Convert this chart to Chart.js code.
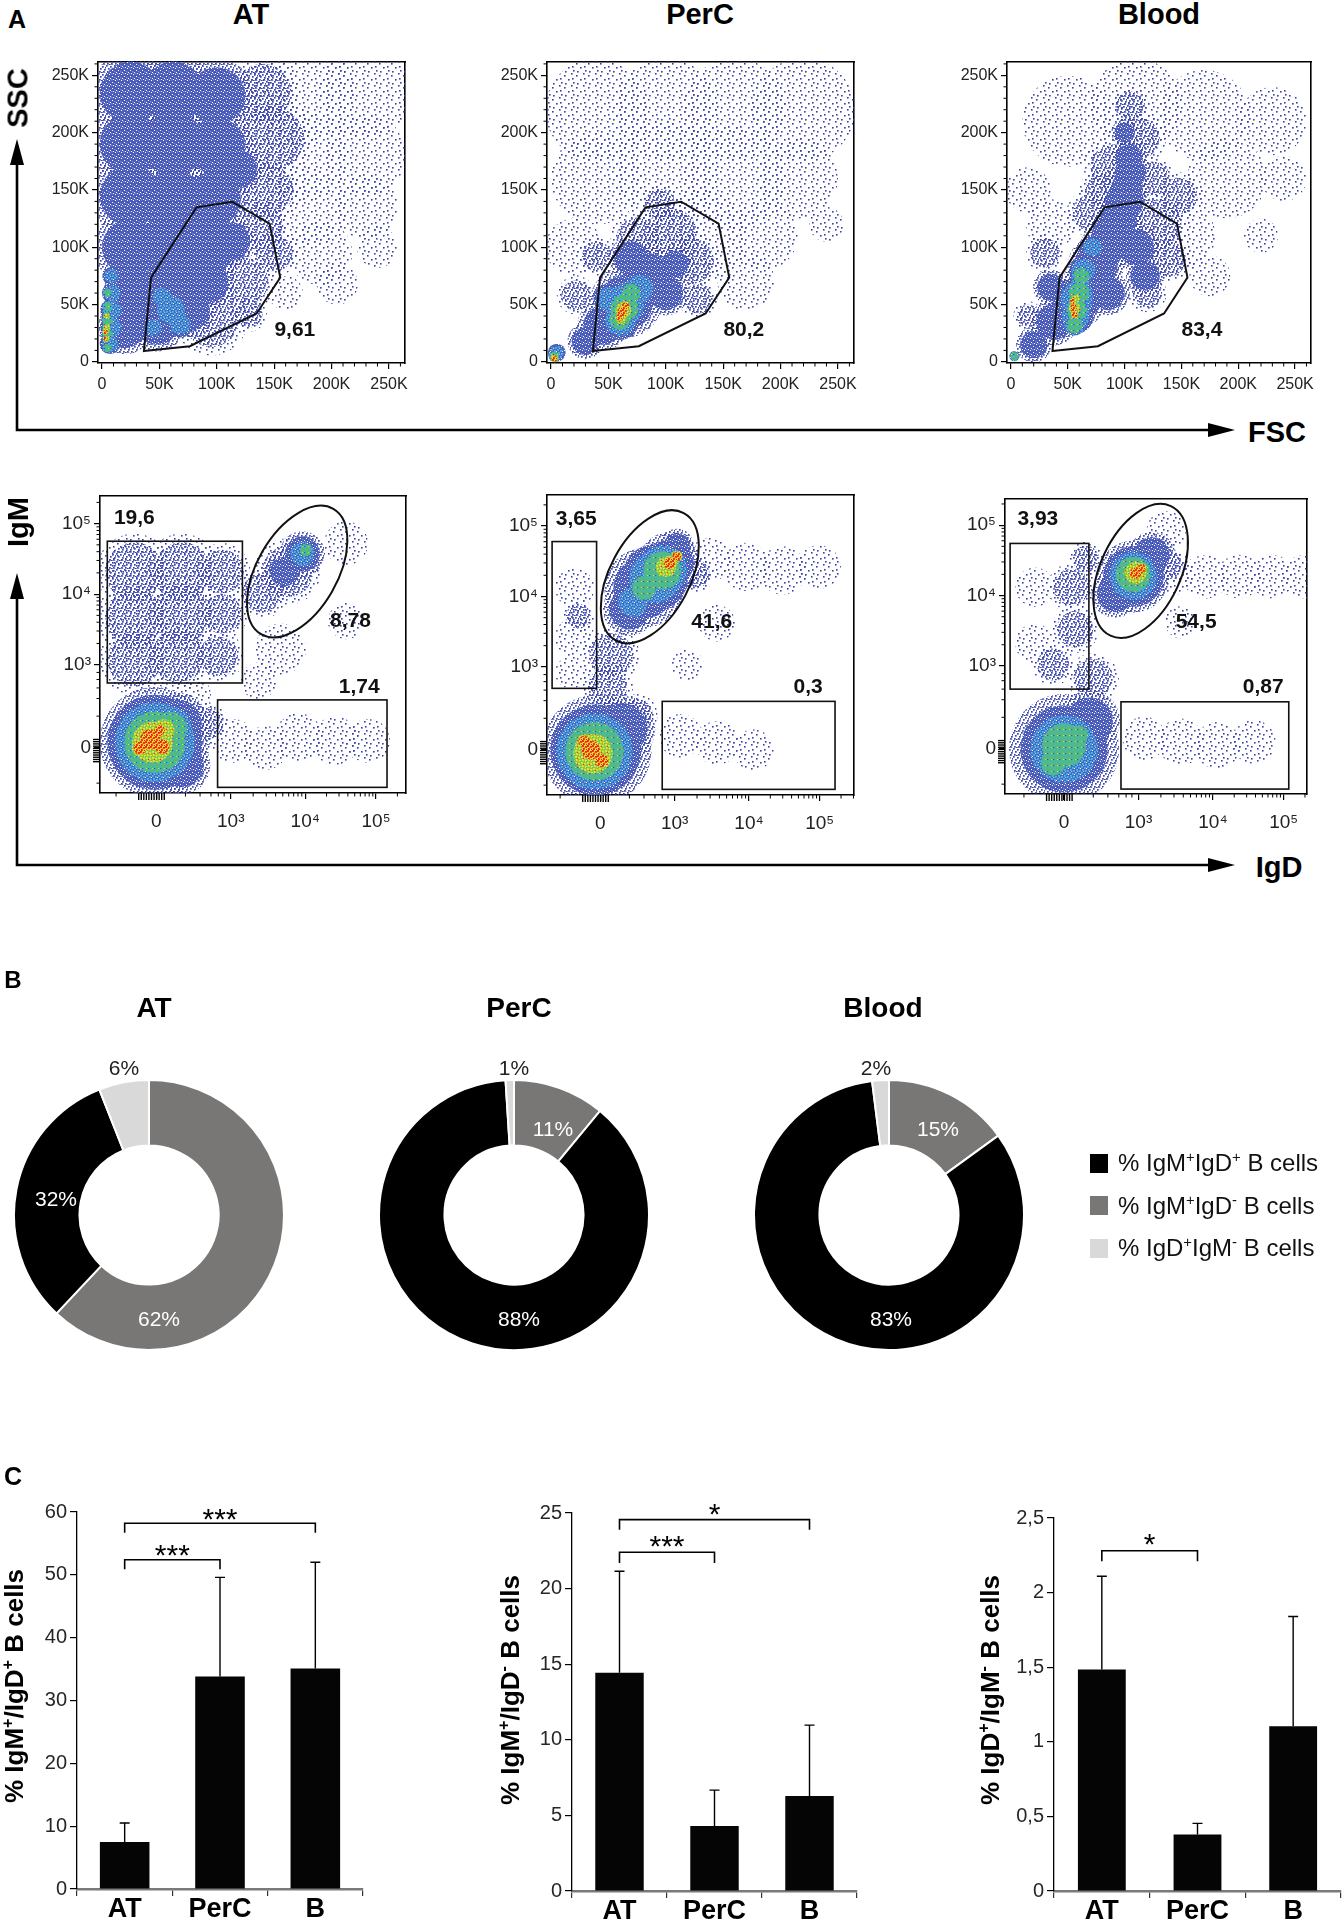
<!DOCTYPE html>
<html><head><meta charset="utf-8">
<script src="https://cdn.jsdelivr.net/npm/chart.js@4.4.1/dist/chart.umd.min.js"></script>
<style>
body{margin:0;background:#fff;}
#fig{position:relative;width:1344px;height:1922px;overflow:hidden;background:#fff;font-family:'Liberation Sans',Arial,sans-serif;color:#000;}
#fig canvas{position:absolute;}
.lbl{position:absolute;transform:translate(-50%,-50%);white-space:nowrap;line-height:1;}
.lbl sup{font-size:62%;vertical-align:0.62em;line-height:0;}
.sw{position:absolute;width:18px;height:19px;}
</style></head>
<body><div id="fig"></div>
<script>
// ---------------- DATA ----------------
// Panel A, top row (FSC / SSC, values in thousands)
const scatterTicks = [0, 50, 100, 150, 200, 250];
const scatterTickLabels = ['0', '50K', '100K', '150K', '200K', '250K'];
const scatterGate = [[36.5,9.4],[76.5,13.7],[134.7,42.2],[155.3,73.5],[146,120.6],[113.4,139.7],[82.3,134.8],[42.7,73.5]];
const scatterGateValues = ['9,61', '80,2', '83,4'];
const scatterGateLabelPos = [168, 28];
// density blobs [x, y, radius] per density level
const atScatter = {
  sparse: [[175,235,45],[230,235,40],[175,180,40],[230,180,35],[180,135,35],[230,135,28],[190,95,28],[240,100,18],[205,68,18],[160,60,15]],
  mid: [[140,235,25],[148,195,28],[145,150,22],[138,118,20],[150,95,16],[125,70,20],[95,38,25],[128,42,12]],
  dense: [[25,235,27],[62,235,27],[100,232,25],[25,190,27],[62,190,28],[100,188,25],[25,145,27],[62,140,28],[97,142,24],[25,100,25],[58,100,27],[92,100,24],[30,60,22],[58,65,22],[90,70,20],[20,30,18],[48,35,20],[76,45,18],[112,105,17],[118,168,17]],
  cyan: [[8,75,6],[9,60,7],[9,45,8],[9,30,8],[7,16,7],[60,45,12],[52,57,8],[68,33,9],[45,30,7]],
  green: [[5,60,3.5],[5,48,4],[5,36,4.5],[5,24,4.5],[5,12,3.5]],
  yellow: [[4,40,2.5],[4,30,2.8],[4,20,2.2]],
  red: [[3,26,2],[3,20,1.8]]
};
const percScatter = {
  sparse: [[40,220,45],[100,220,45],[160,220,45],[220,220,45],[40,160,40],[100,165,45],[160,160,45],[215,160,35],[130,110,40],[185,110,30],[20,100,25],[170,70,25],[240,120,15]],
  mid: [[105,112,22],[122,88,20],[75,108,18],[22,58,13],[40,92,13],[128,55,13],[95,138,13]],
  dense: [[65,52,24],[85,75,20],[45,32,17],[100,60,15],[70,90,15],[30,18,12],[108,85,12]],
  cyan: [[64,50,17],[60,36,13],[77,64,12],[50,55,10],[5,8,6]],
  green: [[64,47,12],[60,37,9],[70,60,8],[3,5,4]],
  yellow: [[63,45,7],[61,38,5]],
  red: [[62,44,4],[60,39,3],[65,49,3],[3,3,2.5]]
};
const bloodScatter = {
  sparse: [[50,210,40],[110,225,40],[170,215,40],[230,210,30],[190,160,35],[150,110,30],[15,150,20],[240,160,20],[35,120,22],[175,75,18],[220,110,15]],
  mid: [[128,120,22],[138,90,16],[90,170,20],[113,195,18],[105,223,13],[30,95,13],[15,40,10],[148,145,16],[70,130,16],[120,60,13],[80,150,15],[125,160,15]],
  dense: [[20,15,12],[38,35,16],[50,45,16],[60,55,19],[68,70,17],[75,85,19],[82,98,17],[90,110,19],[95,125,16],[100,140,17],[102,152,14],[105,165,14],[104,178,12],[100,200,9],[35,65,12],[110,100,16],[118,75,13],[85,60,15]],
  cyan: [[58,55,14],[57,40,12],[64,80,10],[72,100,8]],
  green: [[58,45,9],[60,60,9],[62,75,7],[56,32,7],[3,5,3.5]],
  yellow: [[56,47,5],[57,55,3.5]],
  red: [[55,47,3],[56,41,2.5],[54,53,2]]
};

// Panel A, bottom row (IgD / IgM, transformed display units)
const igdTicks = [0, 1.02, 2.04, 3.01];
const igmTicks = [0, 1.18, 2.18, 3.18];
const logTickLabels = ['0', '10³', '10⁴', '10⁵'];
const atGates = { rects: [[-0.67,0.92,1.18,2.93],[0.84,-0.56,3.16,0.68]], ellipse: [1.93,2.5,0.99,0.55,30] };
const percGates = { rects: [[-0.66,0.875,-0.05,2.96],[0.85,-0.56,3.22,0.69]], ellipse: [0.68,2.46,0.99,0.55,28] };
const bloodGates = { rects: [[-0.74,0.85,0.34,2.92],[0.78,-0.57,3.08,0.67]], ellipse: [1.05,2.53,0.98,0.55,25] };
const atGateLabels = [['19,6',-0.3,3.25],['8,78',2.66,1.79],['1,74',2.78,0.86]];
const percGateLabels = [['3,65',-0.33,3.28],['41,6',1.53,1.82],['0,3',2.85,0.89]];
const bloodGateLabels = [['3,93',-0.36,3.26],['54,5',1.81,1.8],['0,87',2.73,0.88]];
const atIg = {
  sparse: [[1.05,0.1,0.3],[1.5,0.0,0.3],[1.95,0.15,0.33],[2.45,0.1,0.33],[2.9,0.1,0.3],[1.7,1.4,0.35],[2.6,2.9,0.3],[1.4,0.95,0.25],[2.6,1.8,0.25],[0.5,0.75,0.25]],
  mid: [[-0.3,2.5,0.4],[0.35,2.5,0.4],[0.9,2.5,0.3],[-0.3,1.85,0.4],[0.35,1.9,0.4],[0.9,1.9,0.27],[-0.3,1.25,0.37],[0.3,1.3,0.37],[0.85,1.3,0.27],[1.8,2.5,0.35],[1.45,2.2,0.27],[0.7,0.35,0.22]],
  dense: [[-0.02,0.08,0.58],[0.3,0.35,0.32],[0.35,-0.25,0.3],[2.0,2.75,0.24],[1.75,2.5,0.2]],
  cyan: [[-0.02,0.08,0.5],[2.0,2.75,0.16]],
  green: [[-0.02,0.08,0.42],[0.2,0.28,0.22],[2.05,2.8,0.08]],
  yellow: [[-0.05,0.08,0.28],[0.1,0.25,0.15]],
  red: [[-0.08,0.12,0.14],[0.08,0.02,0.1],[-0.22,0.0,0.09],[0.05,0.25,0.07]]
};
const percIg = {
  sparse: [[-0.35,2.3,0.27],[-0.35,1.6,0.27],[-0.4,1.1,0.22],[1.5,2.7,0.3],[2.0,2.6,0.33],[2.5,2.55,0.33],[3.0,2.6,0.3],[1.6,1.8,0.25],[1.1,0.2,0.3],[1.6,0.1,0.3],[2.1,0.0,0.28],[1.2,1.2,0.22]],
  mid: [[0.15,1.35,0.3],[0.1,0.9,0.27],[-0.3,1.9,0.17],[1.3,2.5,0.2],[0.5,0.5,0.22]],
  dense: [[-0.05,0.0,0.58],[0.3,0.3,0.35],[0.6,2.3,0.42],[0.95,2.65,0.33],[0.4,2.0,0.28],[1.05,2.9,0.18]],
  cyan: [[-0.06,0.0,0.48],[0.75,2.45,0.35],[0.45,2.1,0.2]],
  green: [[-0.08,-0.02,0.4],[0.85,2.55,0.26],[0.6,2.3,0.16]],
  yellow: [[-0.1,-0.05,0.27],[0.9,2.6,0.14]],
  red: [[-0.13,0.0,0.13],[0.02,-0.15,0.09],[-0.22,0.12,0.08],[0.95,2.65,0.08],[1.05,2.75,0.06]]
};
const bloodIg = {
  sparse: [[-0.4,2.3,0.27],[-0.4,1.5,0.27],[1.5,2.5,0.3],[1.95,2.45,0.3],[2.4,2.45,0.3],[2.85,2.45,0.3],[3.3,2.45,0.3],[1.1,0.15,0.3],[1.6,0.1,0.32],[2.1,0.05,0.32],[2.6,0.1,0.3],[1.6,1.8,0.22],[1.4,3.1,0.27]],
  mid: [[0.1,2.3,0.25],[0.15,1.7,0.25],[-0.15,1.2,0.22],[0.4,1.0,0.27],[0.3,2.7,0.18],[1.45,2.6,0.18]],
  dense: [[0.0,0.0,0.58],[0.35,0.4,0.32],[0.95,2.45,0.38],[0.7,2.2,0.25],[1.2,2.75,0.25]],
  cyan: [[0.0,0.0,0.46],[0.95,2.45,0.32]],
  green: [[0.0,0.05,0.3],[-0.15,-0.2,0.17],[0.2,0.2,0.13],[0.95,2.48,0.24]],
  yellow: [[0.98,2.5,0.15]],
  red: [[0.98,2.5,0.08],[1.06,2.56,0.06]]
};

// Panel B (doughnuts)
const donutLabels = ['% IgM⁺IgD⁻ B cells', '% IgM⁺IgD⁺ B cells', '% IgD⁺IgM⁻ B cells'];
const donutAT = [62, 32, 6];
const donutPerC = [11, 88, 1];
const donutBlood = [15, 83, 2];

// Panel C (bars, mean and SD)
const barCategories = ['AT', 'PerC', 'B'];
const dpMean = [7.5, 33.8, 35.1];   const dpSd = [3.0, 15.8, 16.9];
const mpMean = [14.43, 4.3, 6.28];  const mpSd = [6.72, 2.37, 4.69];
const dnMean = [1.484, 0.379, 1.105]; const dnSd = [0.626, 0.074, 0.735];
const dpTicks = [0,10,20,30,40,50,60];
const mpTicks = [0,5,10,15,20,25];
const dnTicks = [0,0.5,1,1.5,2,2.5];
const dnTickLabels = ['0','0,5','1','1,5','2','2,5'];
const dpSig = [[0,1,52.4,1.5,'***',54.3],[0,2,58.2,1.5,'***',60.0]];
const mpSig = [[0,1,22.4,0.7,'***',23.3],[0,2,24.56,0.66,'*',25.4]];
const dnSig = [[0,1,2.28,0.07,'*',2.37]];

// ---------------- RENDERING ----------------
const SANS = "'Liberation Sans', Arial, sans-serif";
Chart.defaults.font.family = SANS;
const fig = document.getElementById('fig');

function addCanvas(x, y, w, h) {
  const c = document.createElement('canvas');
  c.width = w; c.height = h;
  c.style.left = x + 'px'; c.style.top = y + 'px';
  c.style.width = w + 'px'; c.style.height = h + 'px';
  fig.appendChild(c); return c;
}
function addText(html, x, y, css, rot) {
  const d = document.createElement('div');
  d.className = 'lbl'; d.innerHTML = html;
  d.style.cssText = 'left:' + x + 'px;top:' + y + 'px;' + (css || '');
  if (rot) d.style.transform = 'translate(-50%,-50%) rotate(-90deg)';
  fig.appendChild(d);
}

function mkPattern(size, bg, layers) {
  const c = document.createElement('canvas'); c.width = c.height = size;
  const g = c.getContext('2d');
  if (bg) { g.fillStyle = bg; g.fillRect(0, 0, size, size); }
  layers.forEach(([col, ds, pts]) => { g.fillStyle = col; pts.forEach(([x, y]) => g.fillRect(x, y, ds, ds)); });
  return g.createPattern(c, 'repeat');
}
const LEVELS = ['sparse', 'mid', 'dense', 'cyan', 'green', 'yellow', 'red'];
const PAT = {
  sparse: mkPattern(12, null, [['#3a40a8', 1.6, [[1,2],[8,0],[5,6],[10,9],[2,10],[9,5]]]]),
  mid: mkPattern(8, null, [['#3944ac', 1.7, [[0,0],[4,1],[2,3],[6,4],[1,6],[5,6],[7,2],[3,7]]], ['#6f7fd0', 1.3, [[6,7]]]]),
  dense: mkPattern(6, '#4a5bba', [['#ffffff', 1, [[1,1],[4,3],[2,5],[5,0]]], ['#7a8bd4', 1.4, [[3,0],[0,4]]], ['#2f3c9e', 1.4, [[5,5]]]]),
  cyan: mkPattern(6, '#4d63c0', [['#45c0ea', 1.8, [[0,0],[3,1],[1,3],[4,4]]], ['#7fd6f0', 1.3, [[2,5]]], ['#ffffff', 1, [[5,2]]]]),
  green: mkPattern(6, '#3fb2cf', [['#5fc04a', 1.9, [[0,0],[3,1],[1,3],[4,4],[5,2]]], ['#3d50b5', 1.2, [[2,5]]], ['#d6df35', 1.2, [[0,5]]]]),
  yellow: mkPattern(6, '#86cb48', [['#f0e42c', 1.9, [[0,0],[3,1],[1,3],[4,4]]], ['#45b8d0', 1.2, [[5,5]]], ['#e9361e', 1.2, [[2,2]]]]),
  red: mkPattern(5, '#f2d22f', [['#e8201c', 1.9, [[0,0],[3,1],[1,3],[4,4]]], ['#f5821f', 1.4, [[2,2]]]])
};
const HALO = 1.3;
function blobRadius(ctx) {
  if (!ctx.raw) return 0;
  const sx = ctx.chart.scales.x;
  const k = (ctx.dataset && ctx.dataset.radiusScale) || 1;
  return Math.abs(sx.getPixelForValue(ctx.raw.x + ctx.raw.s * k) - sx.getPixelForValue(ctx.raw.x));
}
function blobDatasets(blobs) {
  const out = [];
  LEVELS.forEach((lv, i) => {
    const pts = (blobs[lv] || []).map(p => ({ x: p[0], y: p[1], s: p[2] }));
    const base = { pointRadius: blobRadius, pointHoverRadius: blobRadius, pointBorderWidth: 0, borderWidth: 0, showLine: false, clip: 0 };
    if (i > 0) out.push(Object.assign({}, base, { data: pts, radiusScale: HALO, pointBackgroundColor: PAT[LEVELS[i - 1]], order: 100 - 2 * i + 1 }));
    out.push(Object.assign({}, base, { data: pts, radiusScale: 1, pointBackgroundColor: PAT[lv], order: 100 - 2 * i }));
  });
  return out;
}

function flowChart(cfg) {
  const [l, t, r, b] = cfg.box;
  const pL = 80, pT = 8, pR = 10, pB = 48;
  const cv = addCanvas(l - pL, t - pT, (r - l) + pL + pR, (b - t) + pT + pB);
  const tickFont = { family: SANS, size: cfg.fs || 15 };
  const deco = {
    id: 'deco',
    afterDraw(chart) {
      const { ctx, chartArea: a, scales: { x, y } } = chart;
      ctx.save();
      ctx.strokeStyle = '#000'; ctx.lineWidth = 1;
      cfg.xMinor.forEach(v => { if (v < x.min || v > x.max) return; const p = x.getPixelForValue(v); ctx.beginPath(); ctx.moveTo(p, a.bottom); ctx.lineTo(p, a.bottom + 3.5); ctx.stroke(); });
      cfg.yMinor.forEach(v => { if (v < y.min || v > y.max) return; const p = y.getPixelForValue(v); ctx.beginPath(); ctx.moveTo(a.left, p); ctx.lineTo(a.left - 3.5, p); ctx.stroke(); });
      ctx.lineWidth = 1.4;
      (cfg.xZero || []).forEach(v => { const p = x.getPixelForValue(v); ctx.beginPath(); ctx.moveTo(p, a.bottom); ctx.lineTo(p, a.bottom + 7); ctx.stroke(); });
      (cfg.yZero || []).forEach(v => { const p = y.getPixelForValue(v); ctx.beginPath(); ctx.moveTo(a.left, p); ctx.lineTo(a.left - 7, p); ctx.stroke(); });
      ctx.strokeStyle = '#111';
      if (cfg.poly) {
        ctx.lineWidth = 2;
        ctx.beginPath();
        cfg.poly.forEach((p, i) => { const X = x.getPixelForValue(p[0]), Y = y.getPixelForValue(p[1]); i ? ctx.lineTo(X, Y) : ctx.moveTo(X, Y); });
        ctx.closePath(); ctx.stroke();
      }
      if (cfg.gates) {
        ctx.lineWidth = 1.6;
        cfg.gates.rects.forEach(rc => {
          const x1 = x.getPixelForValue(rc[0]), y1 = y.getPixelForValue(rc[1]), x2 = x.getPixelForValue(rc[2]), y2 = y.getPixelForValue(rc[3]);
          ctx.strokeRect(Math.min(x1, x2), Math.min(y1, y2), Math.abs(x2 - x1), Math.abs(y2 - y1));
        });
        const e = cfg.gates.ellipse;
        const ux = Math.abs(x.getPixelForValue(1) - x.getPixelForValue(0));
        ctx.lineWidth = 2;
        ctx.beginPath();
        ctx.ellipse(x.getPixelForValue(e[0]), y.getPixelForValue(e[1]), e[3] * ux, e[2] * ux, e[4] * Math.PI / 180, 0, 2 * Math.PI);
        ctx.stroke();
      }
      ctx.fillStyle = '#111'; ctx.font = 'bold 21px ' + SANS; ctx.textAlign = 'center'; ctx.textBaseline = 'middle';
      cfg.labels.forEach(lb => ctx.fillText(lb[0], x.getPixelForValue(lb[1]), y.getPixelForValue(lb[2])));
      ctx.restore();
    }
  };
  new Chart(cv, {
    type: 'scatter',
    data: { datasets: blobDatasets(cfg.blobs) },
    options: {
      responsive: false, animation: false, events: [],
      layout: { padding: 0 },
      plugins: { legend: { display: false }, tooltip: { enabled: false } },
      scales: {
        x: { type: 'linear', position: 'bottom', min: cfg.xr[0], max: cfg.xr[1],
          afterBuildTicks: s => { s.ticks = cfg.xt.map(v => ({ value: v })); },
          afterFit: s => { s.height = pB; },
          grid: { drawOnChartArea: false, tickLength: 6, color: '#000', lineWidth: 1.2 },
          border: { color: '#000', width: 1.6 },
          ticks: { autoSkip: false, maxRotation: 0, padding: cfg.xpad || 5, color: '#222', font: tickFont, callback: (v, i) => cfg.xl[i] } },
        y: { type: 'linear', position: 'left', min: cfg.yr[0], max: cfg.yr[1],
          afterBuildTicks: s => { s.ticks = cfg.yt.map(v => ({ value: v })); },
          afterFit: s => { s.width = pL; },
          grid: { drawOnChartArea: false, tickLength: 6, color: '#000', lineWidth: 1.2 },
          border: { color: '#000', width: 1.6 },
          ticks: { autoSkip: false, padding: 3, color: '#222', font: tickFont, callback: (v, i) => cfg.yl[i] } },
        x2: { type: 'linear', axis: 'x', position: 'top', min: 0, max: 1, grid: { display: false }, ticks: { display: false },
          border: { display: true, color: '#000', width: 1.6 }, afterFit: s => { s.height = pT; } },
        y2: { type: 'linear', axis: 'y', position: 'right', min: 0, max: 1, grid: { display: false }, ticks: { display: false },
          border: { display: true, color: '#000', width: 1.6 }, afterFit: s => { s.width = pR; } }
      }
    },
    plugins: [deco]
  });
}

// minor tick helpers (axis decoration)
const linMinor = []; for (let v = 10; v <= 260; v += 10) if (v % 50) linMinor.push(v);
function logMinor(d) { const out = []; for (let k = 0; k < d.length; k++) { const step = k < d.length - 1 ? d[k + 1] - d[k] : d[k] - d[k - 1]; for (let m = 2; m <= 9; m++) out.push(d[k] + Math.log10(m) * step); } return out; }
const zeroTicks = []; for (let v = -0.24; v <= 0.13; v += 0.035) zeroTicks.push(v);
const xLogMinor = logMinor(igdTicks.slice(1)).concat([-0.55, 0.4, 0.6, 0.75, 0.85, 0.93]);
const yLogMinor = logMinor(igmTicks.slice(1)).concat([-0.5, 0.45, 0.7, 0.85, 0.97, 1.07]);

const topBoxes = [[98, 57, 405, 363], [547, 57, 854, 363], [1007, 57, 1311, 363]];
const topBlobs = [atScatter, percScatter, bloodScatter];
topBoxes.forEach((bx, i) => flowChart({
  box: bx, xr: [-3.5, 264], yr: [-1, 262], xt: scatterTicks, yt: scatterTicks, xl: scatterTickLabels, yl: scatterTickLabels,
  xMinor: linMinor, yMinor: linMinor, blobs: topBlobs[i], poly: scatterGate, fs: 16, xpad: 6,
  labels: [[scatterGateValues[i], scatterGateLabelPos[0], scatterGateLabelPos[1]]]
}));
const botCfg = [
  { box: [100, 489, 406, 793], xr: [-0.77, 3.42], yr: [-0.64, 3.58], blobs: atIg, gates: atGates, labels: atGateLabels },
  { box: [547, 488, 854, 795], xr: [-0.73, 3.48], yr: [-0.64, 3.63], blobs: percIg, gates: percGates, labels: percGateLabels },
  { box: [1005, 492, 1307, 794], xr: [-0.81, 3.33], yr: [-0.64, 3.56], blobs: bloodIg, gates: bloodGates, labels: bloodGateLabels }
];
botCfg.forEach(c => flowChart(Object.assign({
  xt: igdTicks, yt: igmTicks, xl: logTickLabels, yl: logTickLabels, fs: 19, xpad: 11,
  xMinor: xLogMinor, yMinor: yLogMinor, xZero: zeroTicks, yZero: zeroTicks.map(v => v * 0.9 + 0.02)
}, c)));

// Panel B doughnuts
function donut(cx, cy, r, values) {
  const size = 2 * r + 8;
  const cv = addCanvas(cx - size / 2, cy - size / 2, size, size);
  new Chart(cv, {
    type: 'doughnut',
    data: { labels: donutLabels, datasets: [{ data: values, backgroundColor: ['#797676', '#000000', '#d9d9d9'], borderColor: '#ffffff', borderWidth: 2 }] },
    options: { responsive: false, animation: false, events: [], cutout: '51.5%', layout: { padding: 2 },
      plugins: { legend: { display: false }, tooltip: { enabled: false } } }
  });
}
donut(149, 1215, 134, donutAT);
donut(514, 1215, 134, donutPerC);
donut(889, 1215, 134, donutBlood);

// Panel C bars
function barChart(cfg) {
  const left = cfg.axisX - 60, top = cfg.top - 62;
  const W = cfg.endX + 10 - left, H = 1922 - top;
  const cv = addCanvas(left, top, W, H);
  const deco = {
    id: 'err',
    afterDraw(chart) {
      const { ctx, scales: { x, y } } = chart;
      const meta = chart.getDatasetMeta(0);
      ctx.save();
      ctx.strokeStyle = '#000'; ctx.lineWidth = 1.4;
      meta.data.forEach((el, i) => {
        const yt = y.getPixelForValue(cfg.means[i] + cfg.sds[i]);
        ctx.beginPath(); ctx.moveTo(el.x, el.y); ctx.lineTo(el.x, yt);
        ctx.moveTo(el.x - 5, yt); ctx.lineTo(el.x + 5, yt); ctx.stroke();
      });
      ctx.lineWidth = 1.6;
      ctx.font = '30px ' + SANS; ctx.textAlign = 'center'; ctx.textBaseline = 'alphabetic'; ctx.fillStyle = '#000';
      cfg.sig.forEach(([a, b, yv, d, txt, ty]) => {
        const xa = x.getPixelForValue(a), xb = x.getPixelForValue(b);
        const Y = y.getPixelForValue(yv), Yd = y.getPixelForValue(yv - d);
        ctx.beginPath(); ctx.moveTo(xa, Yd); ctx.lineTo(xa, Y); ctx.lineTo(xb, Y); ctx.lineTo(xb, Yd); ctx.stroke();
        ctx.fillText(txt, (xa + xb) / 2, y.getPixelForValue(ty) + 0.57 * 30);
      });
      ctx.restore();
    }
  };
  new Chart(cv, {
    type: 'bar',
    data: { labels: barCategories, datasets: [{ data: cfg.means, backgroundColor: '#050505', barPercentage: cfg.bp, categoryPercentage: 1 }] },
    options: {
      responsive: false, animation: false, events: [],
      layout: { padding: { top: 62, right: 10, left: 0, bottom: 0 } },
      plugins: { legend: { display: false }, tooltip: { enabled: false } },
      scales: {
        x: { grid: { display: true, drawOnChartArea: false, tickLength: 7, color: '#333', lineWidth: 1.2 },
          border: { color: '#7a7a7a', width: 2.5 },
          ticks: { font: { family: SANS, size: 27, weight: 'bold' }, color: '#000', padding: -3 },
          afterFit: s => { s.height = 1922 - cfg.bottom; } },
        y: { min: 0, max: cfg.max,
          afterBuildTicks: s => { s.ticks = cfg.ticks.map(v => ({ value: v })); },
          afterFit: s => { s.width = 60; },
          grid: { drawOnChartArea: false, tickLength: 7, color: '#000', lineWidth: 1.2 },
          border: { color: '#000', width: 1.3 },
          ticks: { autoSkip: false, padding: 3, color: '#262626', font: { family: SANS, size: 20 }, callback: (v, i) => cfg.labels[i] } }
      }
    },
    plugins: [deco]
  });
}
barChart({ axisX: 77, endX: 363, top: 1512, bottom: 1889, max: 60, ticks: dpTicks, labels: dpTicks.map(String), means: dpMean, sds: dpSd, sig: dpSig, bp: 0.52 });
barChart({ axisX: 572, endX: 857, top: 1513, bottom: 1891, max: 25, ticks: mpTicks, labels: mpTicks.map(String), means: mpMean, sds: mpSd, sig: mpSig, bp: 0.51 });
barChart({ axisX: 1054, endX: 1341, top: 1518, bottom: 1891, max: 2.5, ticks: dnTicks, labels: dnTickLabels, means: dnMean, sds: dnSd, sig: dnSig, bp: 0.5 });

// ---------------- TEXT & ARROWS ----------------
const B = 'font-weight:bold;';
addText('A', 17, 19, B + 'font-size:25px;');
addText('AT', 251, 14, B + 'font-size:29px;');
addText('PerC', 700, 14, B + 'font-size:29px;');
addText('Blood', 1159, 14, B + 'font-size:29px;');
addText('SSC', 18, 98, B + 'font-size:29px;', true);
addText('FSC', 1277, 432, B + 'font-size:29px;');
addText('IgM', 18, 522, B + 'font-size:29px;', true);
addText('IgD', 1279, 867, B + 'font-size:29px;');

fig.insertAdjacentHTML('beforeend',
  '<svg width="1344" height="1922" style="position:absolute;left:0;top:0;pointer-events:none" xmlns="http://www.w3.org/2000/svg">' +
  '<polyline points="17,160 17,430 1212,430" fill="none" stroke="#000" stroke-width="2.6"/>' +
  '<polygon points="17,139 10,165 24,165" fill="#000"/>' +
  '<polygon points="1235,430 1208,423 1208,437" fill="#000"/>' +
  '<polyline points="17,594 17,865 1212,865" fill="none" stroke="#000" stroke-width="2.6"/>' +
  '<polygon points="17,573 10,599 24,599" fill="#000"/>' +
  '<polygon points="1235,865 1208,858 1208,872" fill="#000"/>' +
  '</svg>');

addText('B', 13, 980, B + 'font-size:24px;');
addText('AT', 154, 1008, B + 'font-size:28px;');
addText('PerC', 519, 1008, B + 'font-size:28px;');
addText('Blood', 883, 1008, B + 'font-size:28px;');
const pct = 'font-size:21px;';
addText('6%', 124, 1067, pct + 'color:#222;');
addText('32%', 56, 1198, pct + 'color:#fff;');
addText('62%', 159, 1318, pct + 'color:#fff;');
addText('1%', 514, 1067, pct + 'color:#222;');
addText('11%', 553, 1128, pct + 'color:#fff;');
addText('88%', 519, 1318, pct + 'color:#fff;');
addText('2%', 876, 1067, pct + 'color:#222;');
addText('15%', 938, 1128, pct + 'color:#fff;');
addText('83%', 891, 1318, pct + 'color:#fff;');
const legendItems = [['#000000', '% IgM<sup>+</sup>IgD<sup>+</sup> B cells'], ['#797676', '% IgM<sup>+</sup>IgD<sup>-</sup> B cells'], ['#d9d9d9', '% IgD<sup>+</sup>IgM<sup>-</sup> B cells']];
legendItems.forEach(([c, t], i) => {
  const y = 1163 + i * 42.5;
  fig.insertAdjacentHTML('beforeend', '<div class="sw" style="left:1090px;top:' + (y - 9.5) + 'px;background:' + c + '"></div>');
  const d = document.createElement('div');
  d.className = 'lbl'; d.innerHTML = t;
  d.style.cssText = 'left:1118px;top:' + y + 'px;font-size:24px;transform:translate(0,-50%);color:#111;';
  fig.appendChild(d);
});

addText('C', 13, 1476, B + 'font-size:25px;');
addText('% IgM<sup>+</sup>/IgD<sup>+</sup> B cells', 14, 1686, B + 'font-size:26px;', true);
addText('% IgM<sup>+</sup>/IgD<sup>-</sup> B cells', 510, 1690, B + 'font-size:26px;', true);
addText('% IgD<sup>+</sup>/IgM<sup>-</sup> B cells', 990, 1690, B + 'font-size:26px;', true);
</script>
</body></html>
